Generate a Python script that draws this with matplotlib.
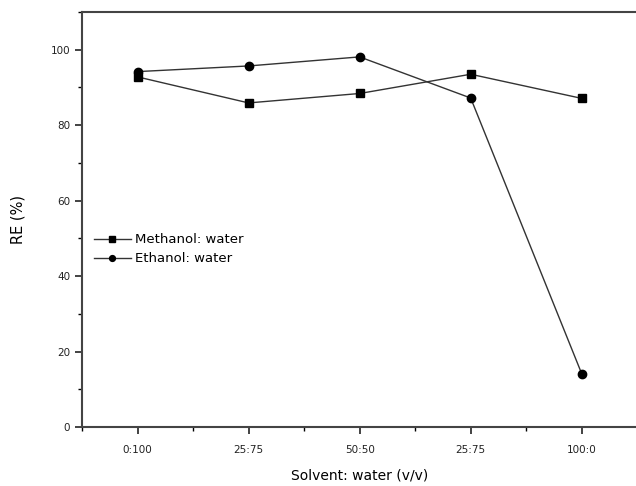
import matplotlib
matplotlib.use("Agg")
import matplotlib.pyplot as plt
from matplotlib.ticker import MultipleLocator

categories = ["0:100", "25:75", "50:50", "25:75", "100:0"]
methanol = [92.8, 85.9, 88.4, 93.5, 87.1]
ethanol = [94.2, 95.7, 98.1, 87.2, 14.1]

fig = plt.figure(figsize=(6.36, 4.86), dpi=100)
ax = fig.add_axes([82/636, 1-427/486, 1-82/636+0.002, (427-12)/486])
x = list(range(len(categories)))
ax.plot(x, methanol, color="#333333", lw=1.0, marker="s", ms=5.2, mfc="black", mec="black", label="Methanol: water")
ax.plot(x, ethanol, color="#333333", lw=1.0, marker="o", ms=6, mfc="black", mec="black", label="Ethanol: water")

ax.set_xlim(-0.5, 4.5)
ax.set_ylim(0, 110)
ax.set_xticks(x)
ax.set_xticklabels(categories)
ax.xaxis.set_minor_locator(MultipleLocator(0.5))
ax.yaxis.set_minor_locator(MultipleLocator(10))
ax.set_yticks([0, 20, 40, 60, 80, 100])
ax.spines["right"].set_visible(False)
for s in ["left", "bottom", "top"]:
    ax.spines[s].set_linewidth(1.5)
    ax.spines[s].set_color("#444444")
ax.tick_params(which="major", direction="out", length=5, width=1.2, labelsize=7.5, colors="#222222")
ax.tick_params(which="minor", direction="out", length=3, width=1.0)
ax.tick_params(axis="x", pad=8)
ax.set_xlabel("Solvent: water (v/v)", fontsize=10, labelpad=10)
ax.set_ylabel("RE (%)", fontsize=10.5, labelpad=18)
ax.legend(loc="upper left", bbox_to_anchor=(0.0, 0.495), frameon=False, fontsize=9.5,
          handlelength=2.8, handletextpad=0.3, labelspacing=0.45, markerscale=0.7)
fig.savefig("out.png", dpi=100)
